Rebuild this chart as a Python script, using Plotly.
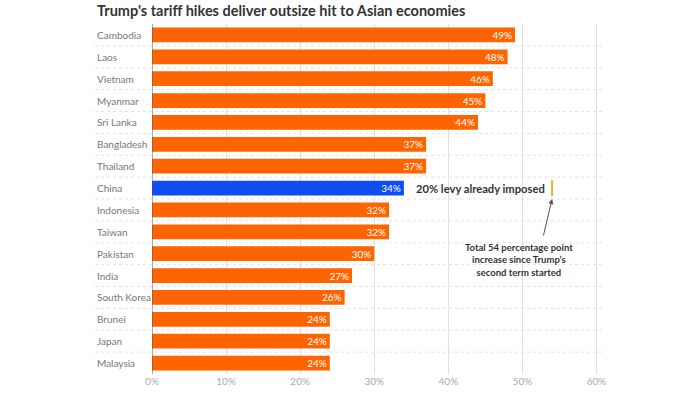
import plotly.graph_objects as go

countries = ["Cambodia", "Laos", "Vietnam", "Myanmar", "Sri Lanka", "Bangladesh", "Thailand",
             "China", "Indonesia", "Taiwan", "Pakistan", "India", "South Korea", "Brunei",
             "Japan", "Malaysia"]
tariffs = [49, 48, 46, 45, 44, 37, 37, 34, 32, 32, 30, 27, 26, 24, 24, 24]
tick_vals = [0, 10, 20, 30, 40, 50, 60]
tick_text = ["0%", "10%", "20%", "30%", "40%", "50%", "60%"]
china_total = 54

ORANGE = "#FF6400"
BLUE = "#0D4DF2"
colors = [BLUE if c == "China" else ORANGE for c in countries]
labels = [f"{v}%" for v in tariffs]
FONT = "Lato"

fig = go.Figure(go.Bar(
    x=tariffs, y=countries, orientation="h",
    marker=dict(color=colors, line=dict(width=0)),
    text=labels, textposition="inside", insidetextanchor="end",
    constraintext="none",
    textfont=dict(color="white", size=10, family=FONT),
    cliponaxis=False, hoverinfo="skip",
))

LX = -0.128  # left edge of labels/title in paper coords

shapes = []
# dotted row separators
for i in range(len(countries) - 1):
    shapes.append(dict(type="line", xref="paper", yref="y",
                       x0=LX, x1=1.01, y0=i + 0.5, y1=i + 0.5,
                       line=dict(color="#e2e2e2", width=1, dash="dot"), layer="below"))
# y axis line at 0
shapes.append(dict(type="line", xref="x", yref="paper", x0=0, x1=0, y0=0, y1=1,
                   line=dict(color="#555555", width=1)))
# yellow marker for China total
ci = countries.index("China")
shapes.append(dict(type="line", xref="x", yref="y", x0=china_total, x1=china_total,
                   y0=ci - 0.36, y1=ci + 0.36, line=dict(color="#F0B41E", width=2),
                   layer="above"))

annotations = [
    dict(text="<b>Trump's tariff hikes deliver outsize hit to Asian economies</b>",
         xref="paper", yref="paper", x=LX, y=1.0, xanchor="left", yanchor="bottom",
         yshift=3, showarrow=False, font=dict(size=14.5, color="#333333", family=FONT)),
    dict(text="<b>20% levy already imposed</b>", xref="x", yref="y", x=35.4, y="China",
         xanchor="left", showarrow=False, font=dict(size=11.2, color="#333333", family=FONT)),
    dict(text="", xref="x", yref="y", x=china_total, y=ci + 0.5,
         ax=-9, ay=38, showarrow=True, arrowhead=2, arrowsize=1, arrowwidth=1,
         arrowcolor="#555555"),
    dict(text="<b>Total 54 percentage point<br>increase since Trump’s<br>second term started</b>",
         xref="x", yref="y", x=49.6, y=ci + 3.3, xanchor="center", yanchor="middle",
         showarrow=False, align="center",
         font=dict(size=9.5, color="#333333", family=FONT)),
]

fig.update_layout(
    width=700, height=394,
    margin=dict(l=152, r=102, t=24, b=20),
    paper_bgcolor="white", plot_bgcolor="white",
    showlegend=False, bargap=0.33,
    font=dict(family=FONT, color="#999999"),
    shapes=shapes, annotations=annotations,
    xaxis=dict(range=[0, 60.2], tickvals=tick_vals, ticktext=tick_text,
               showgrid=True, gridcolor="#e0e0e0", gridwidth=1, zeroline=False,
               tickfont=dict(size=10, color="#aaaaaa", family=FONT), ticks="",
               fixedrange=True, automargin=False),
    yaxis=dict(autorange="reversed", showgrid=False, zeroline=False, ticks="",
               showticklabels=False, fixedrange=True, automargin=False),
)

# Left-aligned category labels
for c in countries:
    fig.add_annotation(text=c, xref="paper", yref="y", x=LX, y=c, xanchor="left",
                       showarrow=False, font=dict(size=10, color="#777777", family=FONT))

fig.write_html("out.html", config={"displayModeBar": False},
               post_script="document.body.style.margin='0';document.body.style.padding='0';"
                           "document.body.style.overflow='hidden';")
